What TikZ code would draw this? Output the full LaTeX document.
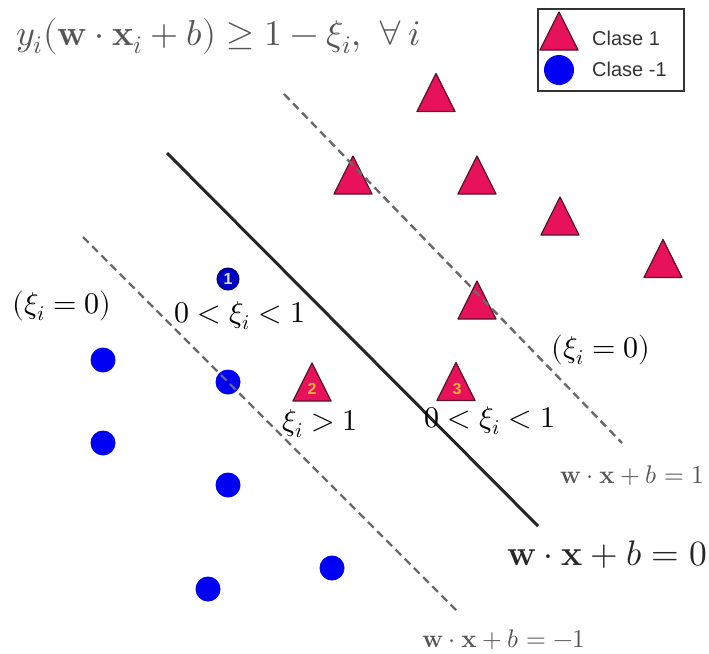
\documentclass[tikz,border=0pt]{standalone}
\usepackage{amsmath,amssymb}
\usepackage{fontspec}
\usepackage{unicode-math}
\setmathfont{Latin Modern Math}
\setsansfont{Liberation Sans}
\usetikzlibrary{positioning}

\definecolor{claseuno}{RGB}{232,18,92}
\definecolor{bordeuno}{RGB}{90,20,40}
\definecolor{claseneg}{RGB}{0,0,245}
\definecolor{gristexto}{RGB}{85,85,85}
\definecolor{grislinea}{RGB}{105,105,105}
\definecolor{numtri}{RGB}{245,180,50}

\tikzset{
  tri/.style={fill=claseuno, draw=bordeuno, line width=1.2pt, line join=round},
  punto/.style={fill=claseneg},
  margen/.style={draw=grislinea, line width=2.4pt, dash pattern=on 8pt off 5pt},
  hiper/.style={draw=black!85, line width=3pt},
  etiq/.style={anchor=base, inner sep=0pt, font=\fontsize{30}{33}\selectfont},
  ecuac/.style={anchor=base, inner sep=0pt, text=gristexto, font=\fontsize{25.5}{28}\selectfont},
  num/.style={inner sep=0pt, font=\sffamily\bfseries\fontsize{16}{16}\selectfont},
  ley/.style={anchor=base west, inner sep=0pt, text=black!80, font=\sffamily\fontsize{20}{20}\selectfont}
}

\begin{document}
\begin{tikzpicture}[x=1pt, y=-1pt]
  \useasboundingbox (0,0) rectangle (709,653);

  % clase 1
  \foreach \x/\y in {436/92.5,353/175,477/175,560/216,663/258.5,477/300,312/382,456/381.5} {
    \draw[tri] (\x,\y-19) -- (\x+19,\y+19) -- (\x-19,\y+19) -- cycle;
  }
  \node[num, text=numtri] (n2) at (312,389) {2};
  \node[num, text=numtri] (n3) at (457,389) {3};

  % clase -1
  \foreach \x/\y in {103/360,228/382,103/443,228/485,332/568,208/589} {
    \fill[punto] (\x,\y) circle[radius=12.5];
  }
  \draw[fill=claseneg!80!black, draw=blue!40!black, line width=1pt] (228,279) circle[radius=11];
  \node[num, text=black!12] (n1) at (228,278.5) {1};

  % hiperplanos
  \coordinate (m1a) at (284,94);  \coordinate (m1b) at (622,443);
  \coordinate (h0a) at (167,153); \coordinate (h0b) at (538,526);
  \coordinate (m2a) at (83,237);  \coordinate (m2b) at (456,610);
  \draw[margen] (m1a) -- (m1b);
  \draw[hiper] (h0a) -- (h0b);
  \draw[margen] (m2a) -- (m2b);

  % textos
  \node[anchor=base west, inner sep=0pt, text=gristexto, font=\fontsize{36}{40}\selectfont] (restr)
    at (16,45) {$y_i(\mathbf{w}\cdot\mathbf{x}_i+b)\geq 1-\xi_i,\ \forall\, i$};
  \node[etiq] (xi0a) at (62,313) {$(\xi_i=0)$};
  \node[etiq] (xi1a) at (240,322) {$0<\xi_i<1$};
  \node[etiq] (xi2)  at (320,430) {$\xi_i>1$};
  \node[etiq] (xi1b) at (490,427) {$0<\xi_i<1$};
  \node[etiq] (xi0b) at (601,357) {$(\xi_i=0)$};
  \node[ecuac] (eqp) at (632,483) {$\mathbf{w}\cdot\mathbf{x}+b=1$};
  \node[ecuac, text=black!85, font=\fontsize{35.5}{38}\selectfont] (eq0) at (607,565) {$\mathbf{w}\cdot\mathbf{x}+b=0$};
  \node[ecuac] (eqn) at (504,647) {$\mathbf{w}\cdot\mathbf{x}+b=-1$};

  % leyenda
  \draw[line width=1.6pt, draw=black!80] (538,9) rectangle (684,91);
  \draw[tri] (559,12) -- (578,50) -- (540,50) -- cycle;
  \fill[punto] (559,70) circle[radius=15];
  \node[ley] (ley1) at (592,45) {Clase 1};
  \node[ley] (ley2) at (592,76) {Clase -1};
\end{tikzpicture}
\end{document}
